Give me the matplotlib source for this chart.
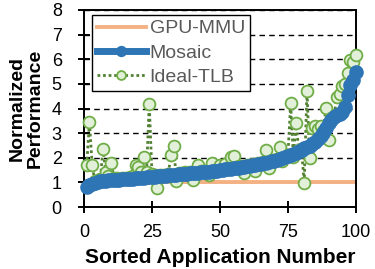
import matplotlib
matplotlib.use('Agg')
import matplotlib.pyplot as plt

plt.rcParams['font.family'] = ['Liberation Sans', 'DejaVu Sans']

# sorted application number
apps = list(range(1, 101))

gpu_mmu = [1.0] * 100

mosaic = [0.83, 0.88, 0.93, 0.97, 1.01, 1.04, 1.06, 1.08, 1.09, 1.10,
          1.11, 1.12, 1.12, 1.13, 1.14, 1.15, 1.15, 1.16, 1.17, 1.18,
          1.19, 1.20, 1.21, 1.22, 1.23, 1.24, 1.25, 1.26, 1.27, 1.28,
          1.29, 1.30, 1.31, 1.32, 1.33, 1.34, 1.35, 1.36, 1.37, 1.38,
          1.39, 1.40, 1.41, 1.42, 1.43, 1.44, 1.46, 1.47, 1.48, 1.50,
          1.51, 1.53, 1.54, 1.56, 1.57, 1.59, 1.60, 1.62, 1.64, 1.66,
          1.68, 1.70, 1.72, 1.74, 1.76, 1.78, 1.80, 1.83, 1.86, 1.89,
          1.92, 1.95, 1.98, 2.02, 2.06, 2.10, 2.15, 2.20, 2.26, 2.32,
          2.38, 2.44, 2.50, 2.58, 2.66, 2.76, 2.88, 3.02, 3.20, 3.40,
          3.55, 3.65, 3.72, 3.78, 3.85, 4.05, 4.55, 4.95, 5.15, 5.50]

ideal_tlb = [1.71, 3.47, 1.71, 1.05, 1.10, 1.15, 2.36, 1.42, 1.25, 1.80,
             1.20, 1.18, 1.15, 1.20, 1.18, 1.20, 1.22, 1.25, 1.71, 1.62,
             1.43, 2.02, 1.43, 4.20, 1.35, 1.30, 0.76, 1.30, 1.32, 1.30,
             1.35, 2.11, 2.47, 1.06, 1.38, 1.40, 1.42, 1.40, 1.42, 1.10,
             1.45, 1.71, 1.45, 1.47, 1.48, 1.30, 1.78, 1.50, 1.52, 1.71,
             1.55, 1.74, 1.58, 2.05, 2.09, 1.62, 1.65, 1.66, 1.37, 1.70,
             1.72, 1.74, 1.48, 1.78, 1.80, 1.82, 2.30, 1.60, 1.90, 1.92,
             1.95, 2.42, 1.86, 2.05, 2.10, 4.21, 2.05, 3.41, 2.30, 2.35,
             0.97, 4.72, 1.99, 3.20, 3.30, 3.15, 3.30, 3.10, 4.01, 2.72,
             3.60, 3.70, 4.48, 4.60, 4.90, 5.00, 5.46, 5.98, 5.90, 6.18]

fig = plt.figure(figsize=(3.75, 2.69), dpi=100)
ax = fig.add_axes([0.224, 0.230, 0.725, 0.733])

ax.plot(apps, gpu_mmu, color='#F4B183', lw=2.8, label='GPU-MMU', zorder=2)
ax.plot(apps, ideal_tlb, color='#548235', ls=(0, (1, 1)), lw=2,
        marker='o', ms=8.5, mfc='#E2F0D9', mec='#70AD47', mew=1.3,
        label='Ideal-TLB', zorder=3, clip_on=False)
ax.plot(apps, mosaic, color='#2E75B6', lw=5, marker='o', ms=9.5,
        label='Mosaic', zorder=4, clip_on=False)

ax.set_xlim(0, 100)
ax.set_ylim(0, 8)
ax.set_xticks([0, 25, 50, 75, 100])
ax.set_yticks(range(0, 9))
ax.yaxis.grid(True, color='black', ls=(0, (4, 3)), lw=1)
ax.set_axisbelow(True)
ax.tick_params(direction='inout', length=8, width=1.4, labelsize=13)
ax.tick_params(axis='x', pad=8)
ax.tick_params(axis='y', pad=12)
for s in ax.spines.values():
    s.set_linewidth(1.4)

ax.set_xlabel('Sorted Application Number', fontsize=15, fontweight='bold',
              labelpad=5)
ax.set_ylabel('Normalized\nPerformance', fontsize=14, fontweight='bold',
              labelpad=6, linespacing=1.05)

h, l = ax.get_legend_handles_labels()
order = [0, 2, 1]
leg = ax.legend([h[i] for i in order], [l[i] for i in order],
                loc='upper left', bbox_to_anchor=(0.03, 0.975),
                fontsize=14, frameon=True, fancybox=False, framealpha=1,
                edgecolor='black', handlelength=2.5, handletextpad=0.2,
                borderpad=0.25, labelspacing=0.35, borderaxespad=0,
                markerscale=0.75)
leg.get_frame().set_linewidth(1.0)
for t in leg.get_texts():
    t.set_color('#595959')

fig.savefig('out.png', dpi=100)
